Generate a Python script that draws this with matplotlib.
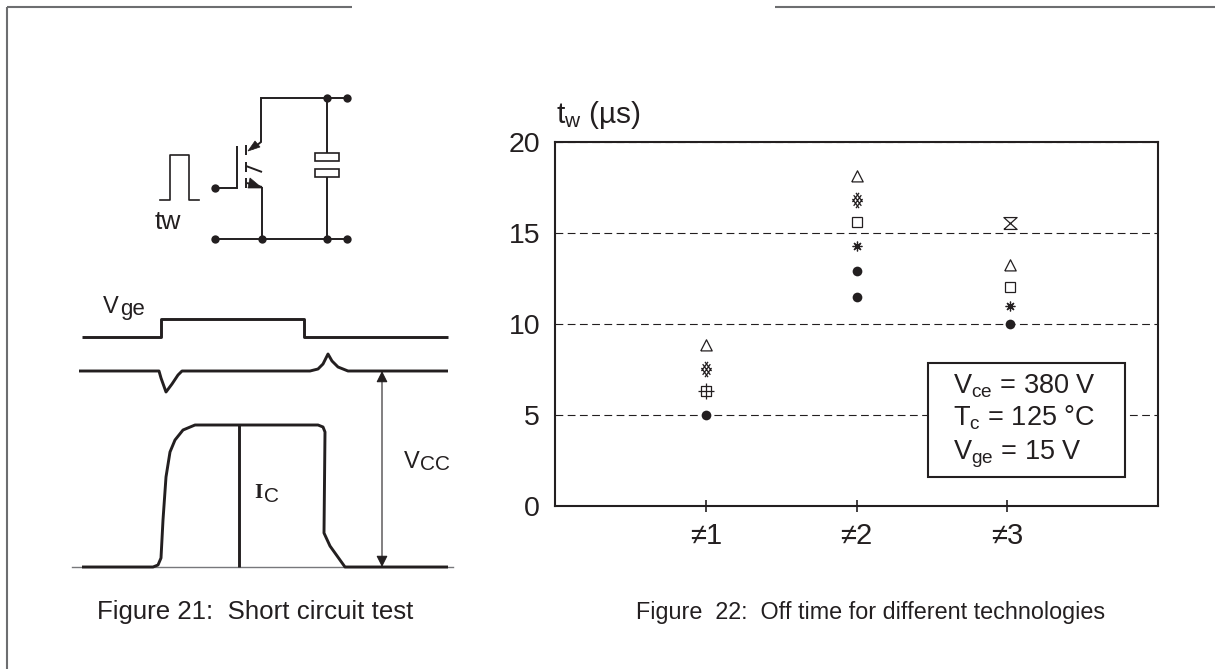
# short circuit test figure and off time chart, redrawn from the datasheet page
import matplotlib
matplotlib.use('Agg')
import matplotlib.pyplot as plt
from matplotlib.path import Path
from matplotlib.patches import Polygon, Rectangle

plt.rcParams['font.family'] = ['Liberation Sans', 'DejaVu Sans']
plt.rcParams['mathtext.fontset'] = 'custom'
plt.rcParams['mathtext.rm'] = 'Liberation Sans'
plt.rcParams['mathtext.default'] = 'rm'

INK = '#231f20'

# off time chart values, per marker type
dot_x = [1, 2, 2, 3.02]
dot_y = [5, 12.9, 11.5, 10]
triangle_x = [1, 2, 3.02]
triangle_y = [8.85, 18.15, 13.25]
lattice_x = [1, 2]
lattice_y = [7.55, 16.85]
square_x = [2, 3.02]
square_y = [15.6, 12.05]
star_x = [2, 3.02]
star_y = [14.3, 11.0]
boxplus_x = [1]
boxplus_y = [6.3]
hourglass_x = [3.02]
hourglass_y = [15.55]

categories = ['\u22601', '\u22602', '\u22603']
category_pos = [1, 2, 3]
y_ticks = [0, 5, 10, 15, 20]

# waveforms, in page pixels
vge_x = [82, 161, 161, 304, 304, 448]
vge_y = [337, 337, 319, 319, 337, 337]
vce_x = [79, 159, 161, 166, 172, 178, 182, 310, 318, 323, 328, 332, 338, 348, 448]
vce_y = [371, 371, 378, 392, 384, 375, 371, 371, 369, 364, 354, 361, 367, 371, 371]
ic_x = [82, 153, 158, 161, 163, 166, 170, 175, 183, 195, 318, 323, 325, 324, 330, 345, 448]
ic_y = [567, 567, 565, 558, 520, 477, 452, 440, 430, 425, 425, 427, 432, 533, 546, 567, 567]

fig = plt.figure(figsize=(12.15, 6.69), dpi=100, facecolor='w')

# page overlay in pixel coordinates
over = fig.add_axes([0, 0, 1, 1], zorder=2)
over.set_xlim(0, 1215)
over.set_ylim(669, 0)
over.axis('off')

# chart axes
left, right, top, bottom = 555.3, 1158, 142.3, 505.7
ax = fig.add_axes([left / 1215, 1 - bottom / 669, (right - left) / 1215, (bottom - top) / 669], zorder=1)
ax.set_xlim(0, 4)
ax.set_ylim(0, 20)
for s in ax.spines.values():
    s.set_linewidth(1.5)
    s.set_color(INK)
ax.set_xticks(category_pos)
ax.set_xticklabels(categories)
ax.set_yticks(y_ticks)
ax.tick_params(axis='x', direction='inout', length=8, width=1.2, pad=8, labelsize=21, colors=INK)
ax.tick_params(axis='y', length=0, pad=11, labelsize=20.5, colors=INK)
ax.grid(axis='y', color=INK, lw=0.8, linestyle=(0, (7, 4)))
ax.set_axisbelow(True)

triangle = Path([(-1, -0.95), (1, -0.95), (0, 1), (-1, -0.95)], closed=False)
lattice = Path(
    [(-0.66, -0.2), (0.2, 1), (-0.2, -1), (0.66, 0.2), (-0.5, -0.7), (0.5, 0.7),
     (0.66, -0.2), (-0.2, 1), (0.2, -1), (-0.66, 0.2), (0.5, -0.7), (-0.5, 0.7)],
    [1, 2, 1, 2, 1, 2, 1, 2, 1, 2, 1, 2])
boxplus = Path(
    [(-0.6, -0.6), (0.6, -0.6), (0.6, 0.6), (-0.6, 0.6), (-0.6, -0.6),
     (-1, 0), (1, 0), (0, -1), (0, 1)],
    [1, 2, 2, 2, 2, 1, 2, 1, 2])
hourglass = Path(
    [(-1, -0.9), (1, -0.9), (-1, 0.9), (1, 0.9), (-1, -0.9)],
    [1, 2, 2, 2, 2])

line_style = dict(ls='none', mfc='none', mec=INK, mew=0.9, zorder=4, clip_on=False)
ax.plot(dot_x, dot_y, 'o', color=INK, ms=7, mew=0, ls='none', zorder=4, clip_on=False)
ax.plot(triangle_x, triangle_y, marker=triangle, ms=8.2, **line_style)
ax.plot(lattice_x, lattice_y, marker=lattice, ms=11, **line_style)
ax.plot(square_x, square_y, marker='s', ms=6.8, **line_style)
ax.plot(star_x, star_y, marker=(8, 2, 0), ms=7, **line_style)
ax.plot(boxplus_x, boxplus_y, marker=boxplus, ms=11, **line_style)
ax.plot(hourglass_x, hourglass_y, marker=hourglass, ms=9.5, **line_style)

# axis title and condition box
over.text(556, 123, r't$_{\mathrm{w}}$ (µs)', fontsize=21.5, color=INK, va='baseline')
over.add_patch(Rectangle((928, 363), 197, 114, fc='w', ec=INK, lw=1.5))
over.text(953, 393, r'V$_{\mathrm{ce}}$ = 380 V', fontsize=19.5, color=INK, va='baseline')
over.text(953, 425, r'T$_{\mathrm{c}}$ = 125 °C', fontsize=19.5, color=INK, va='baseline')
over.text(953, 460, r'V$_{\mathrm{ge}}$ = 15 V', fontsize=19.5, color=INK, va='baseline')

# page frame
frame = dict(color='#6d6e70', lw=1.5, solid_capstyle='butt')
over.plot([7, 7], [669, 7], **frame)
over.plot([7, 352], [7, 7], **frame)
over.plot([775, 1215], [7, 7], **frame)

# waveforms
wave = dict(color=INK, lw=2.1, solid_joinstyle='round', solid_capstyle='butt')
over.plot([72, 453], [567, 567], color='#77787b', lw=1)
over.plot(vge_x, vge_y, **wave)
over.plot(vce_x, vce_y, **wave)
over.plot(ic_x, ic_y, **wave)
over.plot([239, 239], [425, 567], **wave)
over.annotate('', xy=(382, 371), xytext=(382, 567),
              arrowprops=dict(arrowstyle='<|-|>', color=INK, lw=0.8, mutation_scale=17, shrinkA=0, shrinkB=0))

over.text(103, 313, 'V', fontsize=17, color=INK, va='baseline')
over.text(120, 315, 'ge', fontsize=16, color=INK, va='baseline')
over.text(404, 468, 'V', fontsize=17, color=INK, va='baseline')
over.text(420, 470, 'CC', fontsize=15, color=INK, va='baseline')
over.text(254, 498, 'I', fontsize=15, color=INK, va='baseline', family='Liberation Serif', weight='bold')
over.text(264, 502, 'C', fontsize=15, color=INK, va='baseline')

# circuit
wire = dict(color=INK, lw=1.4, solid_capstyle='butt', solid_joinstyle='miter')
over.plot([252, 261, 261, 347], [149, 142, 98, 98], **wire)
over.plot([215, 347], [239, 239], **wire)
over.plot([262, 262], [187, 239], **wire)
over.plot([215, 237, 237], [188, 188, 146], **wire)
over.plot([246, 246], [145, 155], **wire)
over.plot([246, 246], [162, 172], **wire)
over.plot([246, 246], [178, 188], **wire)
over.plot([246, 262], [166, 172], **wire)
over.plot([247, 262], [183, 187], **wire)
over.plot([327, 327], [98, 153], **wire)
over.plot([327, 327], [177, 239], **wire)
over.plot([160, 170, 170, 189, 189, 199], [200, 200, 155, 155, 200, 200], color=INK, lw=1.2)
over.add_patch(Rectangle((315, 153), 24, 8, fc='w', ec=INK, lw=1.2))
over.add_patch(Rectangle((315, 169), 24, 8, fc='w', ec=INK, lw=1.2))
over.add_patch(Polygon([(248, 151), (255, 141), (260, 147)], fc=INK, ec=INK, lw=0.5))
over.add_patch(Polygon([(262, 188), (250, 178), (248, 188)], fc=INK, ec=INK, lw=0.5))
nodes_x = [327, 347, 215, 215, 262, 327, 347]
nodes_y = [98, 98, 188, 239, 239, 239, 239]
over.plot(nodes_x, nodes_y, 'o', color=INK, ms=6, mew=0, ls='none')
over.text(155, 229, 'tw', fontsize=19, color=INK, va='baseline')

# captions
over.text(97, 619, 'Figure 21:  Short circuit test', fontsize=18.6, color=INK, va='baseline')
over.text(636, 619, 'Figure  22:  Off time for different technologies', fontsize=16.8, color=INK, va='baseline')

plt.savefig('out.png', dpi=100)
